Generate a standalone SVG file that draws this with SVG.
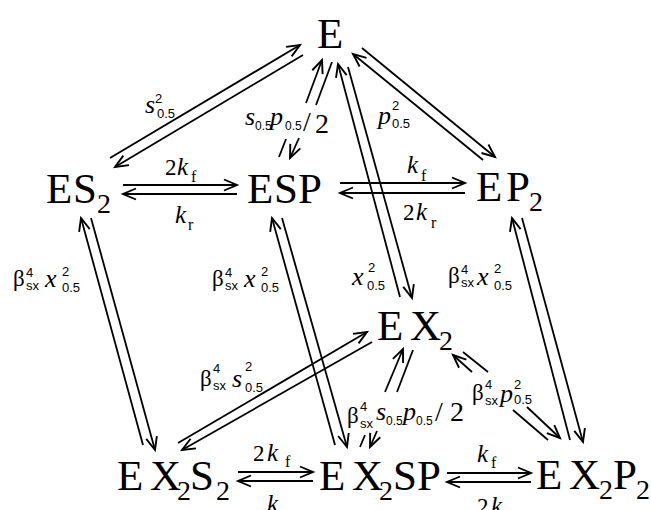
<svg xmlns="http://www.w3.org/2000/svg" width="651" height="510" viewBox="0 0 651 510">
<style>
.node{font-family:"Liberation Serif","Times New Roman",serif;font-size:43px;fill:#000}
.nsub{font-size:28px}
.it{font-family:"Liberation Serif",serif;font-style:italic;font-size:25px}
.rm{font-family:"Liberation Serif",serif;font-size:23px}
.big{font-family:"Liberation Serif",serif;font-size:28px}
.sl{font-family:"Liberation Serif",serif;font-style:italic;font-size:26px}
.sm{font-family:"Liberation Sans",Arial,sans-serif;font-size:13px}
.sm2{font-family:"Liberation Sans",Arial,sans-serif;font-size:12px}
.fr{font-family:"Liberation Serif",serif;font-size:16px}
.bt{font-family:"Liberation Serif",serif;font-size:23px}
line{stroke:#000;stroke-width:1.8;fill:none}
</style>
<defs>
<marker id="ah" viewBox="-15 -8 18 16" refX="0" refY="0" markerWidth="18" markerHeight="16" markerUnits="userSpaceOnUse" orient="auto" overflow="visible">
<path d="M-13,-5.5 L0,0 L-13,5.5" fill="none" stroke="#000" stroke-width="1.9"/>
</marker>
</defs>

<g id="connectors">
<line x1="110" y1="158" x2="300" y2="45" marker-end="url(#ah)"/>
<line x1="303" y1="55" x2="115" y2="167" marker-end="url(#ah)"/>
<line x1="123" y1="185" x2="237" y2="185" marker-end="url(#ah)"/>
<line x1="237" y1="194" x2="123" y2="194" marker-end="url(#ah)"/>
<line x1="306" y1="103" x2="322" y2="60" marker-end="url(#ah)"/>
<line x1="279" y1="157" x2="286" y2="139"/>
<line x1="332" y1="62" x2="316" y2="105"/>
<line x1="299" y1="138" x2="290" y2="158" marker-end="url(#ah)"/>
<line x1="400" y1="297" x2="338" y2="64" marker-end="url(#ah)"/>
<line x1="348" y1="67" x2="412" y2="298" marker-end="url(#ah)"/>
<line x1="362" y1="48" x2="495" y2="157" marker-end="url(#ah)"/>
<line x1="483" y1="160" x2="353" y2="54" marker-end="url(#ah)"/>
<line x1="340" y1="183" x2="465" y2="183" marker-end="url(#ah)"/>
<line x1="465" y1="193" x2="340" y2="193" marker-end="url(#ah)"/>
<line x1="143" y1="445" x2="81" y2="218" marker-end="url(#ah)"/>
<line x1="91" y1="218" x2="155" y2="450" marker-end="url(#ah)"/>
<line x1="335" y1="445" x2="272" y2="218" marker-end="url(#ah)"/>
<line x1="282" y1="218" x2="347" y2="447" marker-end="url(#ah)"/>
<line x1="570" y1="440" x2="512" y2="218" marker-end="url(#ah)"/>
<line x1="522" y1="218" x2="583" y2="442" marker-end="url(#ah)"/>
<line x1="178" y1="443" x2="367" y2="332" marker-end="url(#ah)"/>
<line x1="372" y1="342" x2="182" y2="450" marker-end="url(#ah)"/>
<line x1="385" y1="392" x2="403" y2="349" marker-end="url(#ah)"/>
<line x1="360" y1="447" x2="365" y2="435"/>
<line x1="413" y1="350" x2="397" y2="392"/>
<line x1="377" y1="431" x2="370" y2="447" marker-end="url(#ah)"/>
<line x1="472" y1="372" x2="453" y2="355" marker-end="url(#ah)"/>
<line x1="513" y1="410" x2="548" y2="440"/>
<line x1="463" y1="352" x2="488" y2="372"/>
<line x1="527" y1="407" x2="560" y2="438" marker-end="url(#ah)"/>
<line x1="238" y1="472" x2="313" y2="472" marker-end="url(#ah)"/>
<line x1="313" y1="481" x2="238" y2="481" marker-end="url(#ah)"/>
<line x1="447" y1="473" x2="531" y2="473" marker-end="url(#ah)"/>
<line x1="531" y1="482" x2="447" y2="482" marker-end="url(#ah)"/>

<text><tspan class="sl" x="145" y="113">s</tspan><tspan class="sm" x="155" y="103">2</tspan><tspan class="sm" x="157" y="118">0.5</tspan></text>
<text><tspan class="rm" x="165" y="175">2</tspan><tspan class="it" x="177" y="175">k</tspan><tspan class="fr" x="191" y="182">f</tspan></text>
<text><tspan class="it" x="175" y="223">k</tspan><tspan class="fr" x="188" y="230">r</tspan></text>
<text><tspan class="sl" x="245" y="125">s</tspan><tspan class="sm2" x="255" y="130">0.5</tspan><tspan class="sl" x="270" y="125">p</tspan><tspan class="sm2" x="285" y="130">0.5</tspan><tspan class="big" x="303" y="131">/</tspan><tspan class="big" x="315" y="133">2</tspan></text>
<text><tspan class="sl" x="378" y="124">p</tspan><tspan class="sm" x="392" y="110">2</tspan><tspan class="sm" x="392" y="128">0.5</tspan></text>
<text><tspan class="it" x="407" y="173">k</tspan><tspan class="fr" x="421" y="181">f</tspan></text>
<text><tspan class="rm" x="403" y="220">2</tspan><tspan class="it" x="416" y="220">k</tspan><tspan class="fr" x="431" y="228">r</tspan></text>
<text><tspan class="bt" x="13" y="286">β</tspan><tspan class="sm" x="26" y="277">4</tspan><tspan class="sm" x="26" y="290">sx</tspan><tspan class="sl" x="45" y="287">x</tspan><tspan class="sm" x="62" y="276">2</tspan><tspan class="sm" x="62" y="292">0.5</tspan></text>
<text><tspan class="bt" x="212" y="286">β</tspan><tspan class="sm" x="225" y="277">4</tspan><tspan class="sm" x="225" y="290">sx</tspan><tspan class="sl" x="244" y="287">x</tspan><tspan class="sm" x="261" y="276">2</tspan><tspan class="sm" x="261" y="292">0.5</tspan></text>
<text><tspan class="bt" x="448" y="283">β</tspan><tspan class="sm" x="461" y="274">4</tspan><tspan class="sm" x="461" y="287">sx</tspan><tspan class="sl" x="477" y="285">x</tspan><tspan class="sm" x="494" y="273">2</tspan><tspan class="sm" x="494" y="290">0.5</tspan></text>
<text><tspan class="sl" x="352" y="285">x</tspan><tspan class="sm" x="368" y="272">2</tspan><tspan class="sm" x="367" y="290">0.5</tspan></text>
<text><tspan class="bt" x="200" y="386">β</tspan><tspan class="sm" x="213" y="373">4</tspan><tspan class="sm" x="213" y="390">sx</tspan><tspan class="sl" x="232" y="387">s</tspan><tspan class="sm" x="245" y="371">2</tspan><tspan class="sm" x="245" y="392">0.5</tspan></text>
<text><tspan class="bt" x="347" y="423">β</tspan><tspan class="sm" x="360" y="411">4</tspan><tspan class="sm" x="360" y="428">sx</tspan><tspan class="sl" x="376" y="420">s</tspan><tspan class="sm2" x="386" y="425">0.5</tspan><tspan class="sl" x="403" y="420">p</tspan><tspan class="sm2" x="416" y="425">0.5</tspan><tspan class="big" x="435" y="421">/</tspan><tspan class="big" x="450" y="421">2</tspan></text>
<text><tspan class="bt" x="472" y="400">β</tspan><tspan class="sm" x="485" y="389">4</tspan><tspan class="sm" x="485" y="405">sx</tspan><tspan class="sl" x="500" y="402">p</tspan><tspan class="sm" x="514" y="389">2</tspan><tspan class="sm" x="514" y="404">0.5</tspan></text>
<text><tspan class="rm" x="253" y="461">2</tspan><tspan class="it" x="267" y="461">k</tspan><tspan class="fr" x="285" y="467">f</tspan></text>
<text><tspan class="it" x="267" y="512">k</tspan><tspan class="fr" x="281" y="519">r</tspan></text>
<text><tspan class="it" x="477" y="462">k</tspan><tspan class="fr" x="491" y="468">f</tspan></text>
<text><tspan class="rm" x="477" y="514">2</tspan><tspan class="it" x="491" y="514">k</tspan><tspan class="fr" x="505" y="521">r</tspan></text>
</g>

<g id="node-E"><text class="node" x="317" y="48">E</text></g>
<g id="node-ES2"><text class="node"><tspan x="46" y="203">E</tspan><tspan x="73" y="203">S</tspan><tspan class="nsub" x="97" y="213">2</tspan></text></g>
<g id="node-ESP"><text class="node"><tspan x="247" y="203">E</tspan><tspan x="274" y="203">S</tspan><tspan x="298" y="203">P</tspan></text></g>
<g id="node-EP2"><text class="node"><tspan x="476" y="201">E</tspan><tspan x="506" y="201">P</tspan><tspan class="nsub" x="529" y="211">2</tspan></text></g>
<g id="node-EX2"><text class="node"><tspan x="377" y="340">E</tspan><tspan x="410" y="340">X</tspan><tspan class="nsub" x="439" y="350">2</tspan></text></g>
<g id="node-EX2S2"><text class="node"><tspan x="117" y="490">E</tspan><tspan x="150" y="490">X</tspan><tspan class="nsub" x="177" y="500">2</tspan><tspan x="190" y="490">S</tspan><tspan class="nsub" x="216" y="500">2</tspan></text></g>
<g id="node-EX2SP"><text class="node"><tspan x="319" y="490">E</tspan><tspan x="352" y="490">X</tspan><tspan class="nsub" x="379" y="500">2</tspan><tspan x="393" y="490">S</tspan><tspan x="417" y="490">P</tspan></text></g>
<g id="node-EX2P2"><text class="node"><tspan x="536" y="489">E</tspan><tspan x="569" y="489">X</tspan><tspan class="nsub" x="599" y="499">2</tspan><tspan x="613" y="489">P</tspan><tspan class="nsub" x="636" y="499">2</tspan></text></g>
</svg>
